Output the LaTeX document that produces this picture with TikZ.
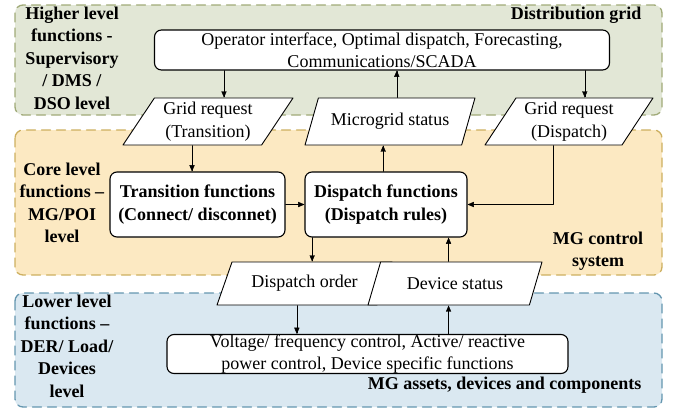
\documentclass[tikz,border=0pt]{standalone}
\usepackage{fontspec}
\setmainfont{Liberation Serif}
\usetikzlibrary{arrows}
\usetikzlibrary{shapes.geometric}
\usetikzlibrary{calc}

\definecolor{grnfill}{RGB}{226,231,214}
\definecolor{grnline}{RGB}{160,170,120}
\definecolor{orgfill}{RGB}{252,233,194}
\definecolor{orgline}{RGB}{205,175,95}
\definecolor{blufill}{RGB}{218,232,241}
\definecolor{bluline}{RGB}{100,150,175}

\newcommand{\dfont}{\fontsize{18}{22.5}\selectfont}

\tikzset{
  zone/.style={dash pattern=on 9pt off 6pt,line width=1.3pt,rounded corners=8pt},
  funcbox/.style={draw,fill=white,line width=1.1pt,rounded corners=7pt,align=center,inner sep=0pt},
  databox/.style={draw,fill=white,line width=0.9pt,trapezium,trapezium left angle=56,
    trapezium right angle=124,trapezium stretches=true,align=center,inner sep=0pt},
  lvl/.style={font=\dfont\bfseries,align=center}
}

\begin{document}
\begin{tikzpicture}[line cap=round,line join=round,>=triangle 45,x=1pt,y=-1pt,every node/.style={font=\dfont}]
\useasboundingbox (0,0) rectangle (675,410);
% the three levels
\draw[zone,draw=grnline,fill=grnfill] (15,5) rectangle (662,115);
\draw[zone,draw=orgline,fill=orgfill] (15,130) rectangle (662,275);
\draw[zone,draw=bluline,fill=blufill] (15,293) rectangle (662,407);

\node[lvl] (hlab) at (72,58) {Higher level\\functions -\\Supervisory\\/ DMS /\\DSO level};
\node[lvl,anchor=east] (dglab) at (645,15) {Distribution grid};
\node[lvl] (clab) at (62,203) {Core level\\functions –\\MG/POI\\level};
\node[lvl] (mglab) at (598,251) {MG control\\system};
\node[lvl] (llab) at (67,346) {Lower level\\functions –\\DER/ Load/\\Devices\\level};
\node[lvl,anchor=east] (alab) at (645,385) {MG assets, devices and components};

% function blocks
\node[funcbox,minimum width=455pt,minimum height=40pt] (ops) at (382,50)
  {Operator interface, Optimal dispatch, Forecasting,\\Communications/SCADA};
\node[funcbox,font=\dfont\bfseries,minimum width=175pt,minimum height=65pt] (trans) at (197.5,204.5)
  {Transition functions\\(Connect/ disconnet)};
\node[funcbox,font=\dfont\bfseries,minimum width=162pt,minimum height=65pt] (disp) at (386,204.5)
  {Dispatch functions\\(Dispatch rules)};
\node[funcbox,minimum width=401pt,minimum height=38pt] (low) at (367.5,354)
  {Voltage/ frequency control, Active/ reactive\\power control, Device specific functions};

% signals
\node[databox,minimum width=170pt,minimum height=47pt] (greqT) at (208,121.5) {Grid request\\(Transition)};
\node[databox,minimum width=170pt,minimum height=47pt] (mgstat) at (390,121.5) {Microgrid status};
\node[databox,minimum width=168pt,minimum height=47pt] (greqD) at (569,121.5) {Grid request\\(Dispatch)};
\node[databox,minimum width=175pt,minimum height=43pt] (dord) at (304.5,283.5) {Dispatch order};
\node[databox,minimum width=174pt,minimum height=43pt] (dstat) at (455,283.5) {Device status};

\coordinate (gTt) at ($(greqT.top left corner)!.5!(greqT.top right corner)$);
\coordinate (gTb) at ($(greqT.bottom left corner)!.5!(greqT.bottom right corner)$);
\coordinate (mSt) at ($(mgstat.top left corner)!.5!(mgstat.top right corner)$);
\coordinate (mSb) at ($(mgstat.bottom left corner)!.5!(mgstat.bottom right corner)$);
\coordinate (gDt) at ($(greqD.top left corner)!.5!(greqD.top right corner)$);
\coordinate (gDb) at ($(greqD.bottom left corner)!.5!(greqD.bottom right corner)$);
\coordinate (dOt) at ($(dord.top left corner)!.5!(dord.top right corner)$);
\coordinate (dOb) at ($(dord.bottom left corner)!.5!(dord.bottom right corner)$);
\coordinate (dSb) at ($(dstat.bottom left corner)!.5!(dstat.bottom right corner)$);

\draw[->] (gTt |- ops.south) -- (gTt);
\draw[->] (gTb) -- (gTb |- trans.north);
\draw[->] (mSt) -- (mSt |- ops.south);
\draw[->] (mSb |- disp.north) -- (mSb);
\draw[->] (gDt |- ops.south) -- (gDt);
\draw[->] (gDb) |- (disp.east);
\draw[->] (trans.east) -- (disp.west);
\draw[->] (dOt |- disp.south) -- (dOt);
\draw[->] (dOb) -- (dOb |- low.north);
\draw[->] (dSb |- low.north) -- (dSb);
\draw[->] (dSb |- dstat.north) -- (dSb |- disp.south);
\end{tikzpicture}
\end{document}
